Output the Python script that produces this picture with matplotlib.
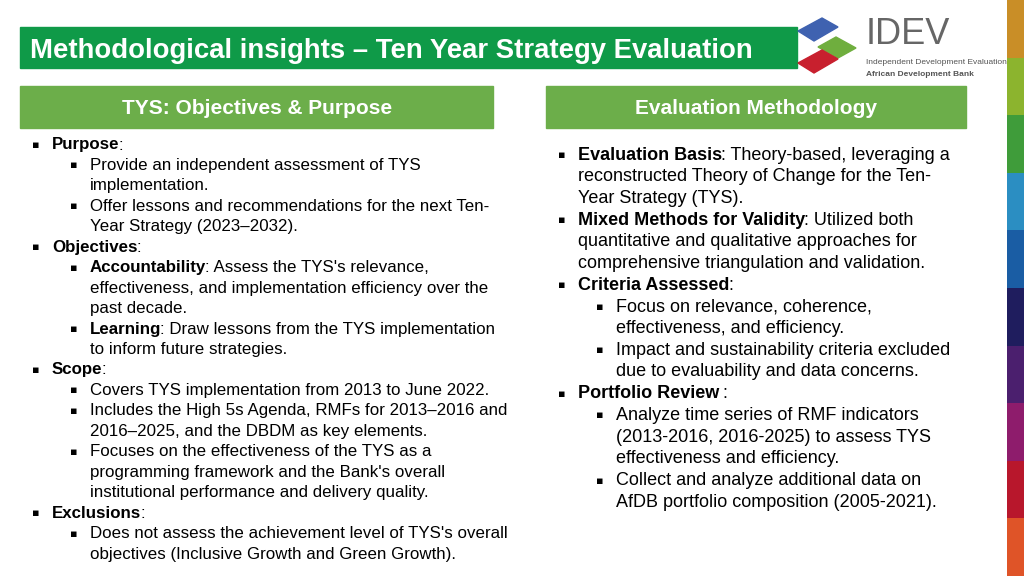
import matplotlib
matplotlib.use("Agg")
import matplotlib.pyplot as plt
from matplotlib.patches import Rectangle, Polygon

TITLE = "Methodological insights – Ten Year Strategy Evaluation"
LEFT_HEADER = "TYS: Objectives & Purpose"
RIGHT_HEADER = "Evaluation Methodology"
# (level, bullet?, bold part, regular part)
LEFT_LINES = [
    (1, True, "Purpose", ":"),
    (2, True, "", "Provide an independent assessment of TYS"),
    (2, False, "", "implementation."),
    (2, True, "", "Offer lessons and recommendations for the next Ten-"),
    (2, False, "", "Year Strategy (2023–2032)."),
    (1, True, "Objectives", ":"),
    (2, True, "Accountability", ": Assess the TYS's relevance,"),
    (2, False, "", "effectiveness, and implementation efficiency over the"),
    (2, False, "", "past decade."),
    (2, True, "Learning", ": Draw lessons from the TYS implementation"),
    (2, False, "", "to inform future strategies."),
    (1, True, "Scope", ":"),
    (2, True, "", "Covers TYS implementation from 2013 to June 2022."),
    (2, True, "", "Includes the High 5s Agenda, RMFs for 2013–2016 and"),
    (2, False, "", "2016–2025, and the DBDM as key elements."),
    (2, True, "", "Focuses on the effectiveness of the TYS as a"),
    (2, False, "", "programming framework and the Bank's overall"),
    (2, False, "", "institutional performance and delivery quality."),
    (1, True, "Exclusions", ":"),
    (2, True, "", "Does not assess the achievement level of TYS's overall"),
    (2, False, "", "objectives (Inclusive Growth and Green Growth)."),
]
RIGHT_LINES = [
    (1, True, "Evaluation Basis", ": Theory-based, leveraging a"),
    (1, False, "", "reconstructed Theory of Change for the Ten-"),
    (1, False, "", "Year Strategy (TYS)."),
    (1, True, "Mixed Methods for Validity", ": Utilized both"),
    (1, False, "", "quantitative and qualitative approaches for"),
    (1, False, "", "comprehensive triangulation and validation."),
    (1, True, "Criteria Assessed", ":"),
    (2, True, "", "Focus on relevance, coherence,"),
    (2, False, "", "effectiveness, and efficiency."),
    (2, True, "", "Impact and sustainability criteria excluded"),
    (2, False, "", "due to evaluability and data concerns."),
    (1, True, "Portfolio Review", " :"),
    (2, True, "", "Analyze time series of RMF indicators"),
    (2, False, "", "(2013-2016, 2016-2025) to assess TYS"),
    (2, False, "", "effectiveness and efficiency."),
    (2, True, "", "Collect and analyze additional data on"),
    (2, False, "", "AfDB portfolio composition (2005-2021)."),
]
STRIPE_COLORS = ["#C98E27", "#8CB42E", "#3F9C3A", "#2B8EC2", "#1A5DA4",
                 "#1F1D5E", "#4B1F6E", "#8E1C6C", "#B8172C", "#DF5428"]

W, H = 1024, 576
fig = plt.figure(figsize=(W / 100, H / 100), dpi=100)
ax = fig.add_axes([0, 0, 1, 1])
ax.set_xlim(0, W); ax.set_ylim(H, 0); ax.axis("off")
FONT = "Liberation Sans"

# Title bar
ax.add_patch(Rectangle((20, 27), 777, 41, color="#0F9A48"))
ax.text(30, 48, TITLE, color="white", fontsize=19.8, fontweight="bold",
        family=FONT, va="center_baseline")
# Section headers
ax.add_patch(Rectangle((20, 86), 473, 42, color="#6CAE4A"))
ax.text(257, 106, LEFT_HEADER, color="white", fontsize=15, fontweight="bold",
        family=FONT, ha="center", va="center_baseline")
ax.add_patch(Rectangle((546, 86), 420, 42, color="#6CAE4A"))
ax.text(756, 106, RIGHT_HEADER, color="white", fontsize=15, fontweight="bold",
        family=FONT, ha="center", va="center_baseline")

# Right stripe
seg = H / len(STRIPE_COLORS)
for i, c in enumerate(STRIPE_COLORS):
    ax.add_patch(Rectangle((1007, i * seg), 17, seg + 0.5, color=c, lw=0))

# Logo
ax.add_patch(Polygon([[798, 31], [822, 18], [838, 27], [814, 41]], color="#3F62B0"))
ax.add_patch(Polygon([[818, 47], [836, 37], [856, 48], [838, 58]], color="#6FAE3E"))
ax.add_patch(Polygon([[798, 63], [822, 50], [838, 59], [814, 73]], color="#C8202E"))
ax.text(866, 34, "IDEV", fontsize=26, color="#666666", family=FONT,
        va="center")
ax.text(866, 62, "Independent Development Evaluation", fontsize=6.0,
        color="#555555", family=FONT, va="center")
ax.text(866, 74, "African Development Bank", fontsize=6.0, color="#555555",
        family=FONT, fontweight="bold", va="center")

fig.canvas.draw()
renderer = fig.canvas.get_renderer()


def draw_lines(lines, x1, y0, dy, fs):
    for i, (lvl, bullet, bold, reg) in enumerate(lines):
        y = y0 + i * dy
        bx = x1 if lvl == 1 else x1 + 38
        tx = bx + 20
        if bullet:
            ax.text(bx, y, "▪", fontsize=8, family="DejaVu Sans", va="center")
        x = tx
        if bold:
            t = ax.text(x, y, bold, fontsize=fs, fontweight="bold", family=FONT,
                        va="center")
            bb = t.get_window_extent(renderer)
            x = tx + bb.width - 1
        if reg:
            ax.text(x, y, reg, fontsize=fs, family=FONT, va="center")


draw_lines(LEFT_LINES, 32, 145, 20.45, 12.2)
draw_lines(RIGHT_LINES, 558, 155, 21.7, 13.0)

fig.savefig("out.png", dpi=100)
